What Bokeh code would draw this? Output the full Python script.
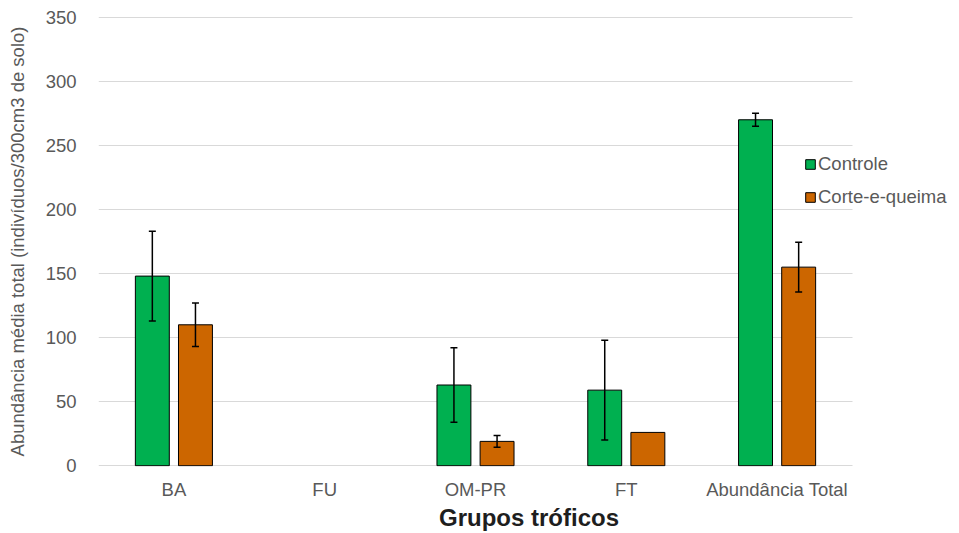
from bokeh.plotting import figure
from bokeh.models import (ColumnDataSource, Whisker, TeeHead, Legend, LegendItem, Range1d,
                          FixedTicker, BoxAnnotation)
from bokeh.embed import file_html
from bokeh.resources import INLINE

categories = ["BA", "FU", "OM-PR", "FT", "Abundância Total"]
controle = [148, 0, 63, 59, 270]
controle_err = [35, 0, 29, 39, 5]
corte = [110, 0, 19, 26, 155]
corte_err = [17, 0, 4.5, 0, 19.5]
y_ticks = [0, 50, 100, 150, 200, 250, 300, 350]

GREEN = "#00B050"
ORANGE = "#CC6600"
FONT = "Liberation Sans"
TXT = "#595959"
OFF = 0.143
BW = 0.225

W, H = 959, 533
LEFT, TOP, BOTTOM = 98, 16, 67
PLOT_W = 754  # width occupied by the categories
n = len(categories)
x_end = -0.5 + n * (W - LEFT) / PLOT_W

p = figure(x_range=Range1d(-0.5, x_end), y_range=Range1d(-0.6, 350.6),
           width=W, height=H, output_backend="svg", toolbar_location=None,
           min_border_left=LEFT, min_border_right=0, min_border_top=TOP, min_border_bottom=BOTTOM)
p.outline_line_color = None
p.background_fill_color = "white"


def bar_source(vals, off):
    keep = [i for i, v in enumerate(vals) if v > 0]
    return ColumnDataSource(dict(x=[i + off for i in keep], val=[vals[i] for i in keep]))


def err_source(vals, errs, off):
    keep = [i for i, e in enumerate(errs) if e > 0]
    return ColumnDataSource(dict(
        x=[i + off for i in keep],
        upper=[vals[i] + errs[i] for i in keep],
        lower=[vals[i] - errs[i] for i in keep]))


r1 = p.vbar(x="x", top="val", width=BW, source=bar_source(controle, -OFF),
            fill_color=GREEN, line_color="black", line_width=1)
r2 = p.vbar(x="x", top="val", width=BW, source=bar_source(corte, OFF),
            fill_color=ORANGE, line_color="black", line_width=1)

for src in (err_source(controle, controle_err, -OFF), err_source(corte, corte_err, OFF)):
    w = Whisker(base="x", upper="upper", lower="lower", source=src, level="annotation",
                line_color="black", line_width=1.5,
                upper_head=TeeHead(size=7, line_color="black", line_width=1.5),
                lower_head=TeeHead(size=7, line_color="black", line_width=1.5))
    p.add_layout(w)

p.yaxis.ticker = FixedTicker(ticks=y_ticks)
p.xaxis.ticker = FixedTicker(ticks=list(range(n)))
p.xaxis.major_label_overrides = {i: c for i, c in enumerate(categories)}
p.ygrid.grid_line_color = "#d9d9d9"
p.ygrid.grid_line_width = 1
p.xgrid.grid_line_color = None

# hide gridlines right of the category area (legend zone)
p.add_layout(BoxAnnotation(left=n - 0.5, fill_color="white", fill_alpha=1.0, line_color=None))

for ax in (p.xaxis, p.yaxis):
    ax.axis_line_color = None
    ax.major_tick_line_color = None
    ax.minor_tick_line_color = None
    ax.major_label_text_font = FONT
    ax.major_label_text_font_size = "18.5px"
    ax.major_label_text_color = TXT
    ax.axis_label_text_font = FONT
    ax.axis_label_text_font_style = "normal"

p.yaxis.major_label_standoff = 16
p.yaxis.axis_label = "Abundância média total (indivíduos/300cm3 de solo)"
p.yaxis.axis_label_text_font_size = "18.5px"
p.yaxis.axis_label_text_color = TXT
p.yaxis.axis_label_standoff = 15

p.xaxis.major_label_standoff = 6
p.xaxis.axis_label = "Grupos tróficos"
p.xaxis.axis_label_text_font_size = "24px"
p.xaxis.axis_label_text_font_style = "bold"
p.xaxis.axis_label_text_color = "#1e1e1e"
p.xaxis.axis_label_standoff = 1

legend = Legend(items=[LegendItem(label="Controle", renderers=[r1]),
                       LegendItem(label="Corte-e-queima", renderers=[r2])],
                location=(706, 258), padding=0, margin=0, spacing=11,
                glyph_width=12, glyph_height=12, label_height=21, label_standoff=2,
                label_text_font=FONT, label_text_font_size="18.5px", label_text_color=TXT,
                border_line_color=None, background_fill_alpha=0)
p.add_layout(legend)

open("out.html", "w").write(file_html(p, INLINE))
